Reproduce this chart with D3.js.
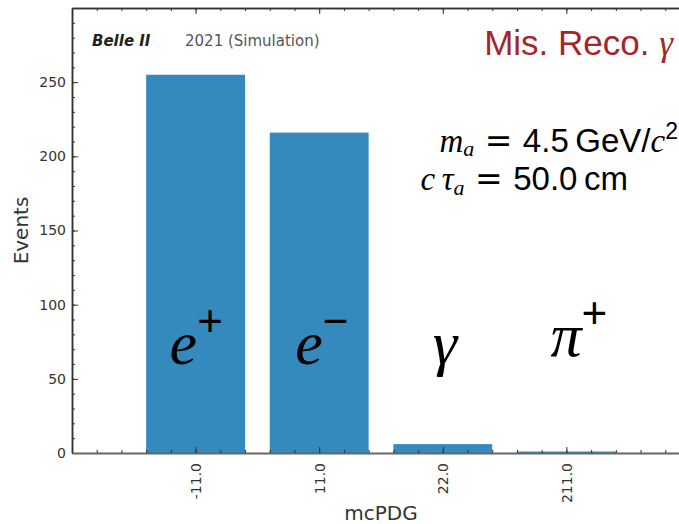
<!DOCTYPE html>
<html>
<head>
<meta charset="utf-8">
<script src="https://cdn.jsdelivr.net/npm/d3@7"></script>
<style>
body { margin: 0; background: #fff; }
svg { display: block; }
.mi { font-family: 'Liberation Serif', 'Times New Roman', serif; font-style: italic; }
.rm { font-family: 'Liberation Sans', Arial, sans-serif; }
.eq { font-family: 'DejaVu Sans', sans-serif; }
</style>
</head>
<body>
<svg id="chart" width="679" height="524"></svg>
<script>
// mcPDG categories and event counts
let categories = ["-11.0", "11.0", "22.0", "211.0"];
let events = [255, 216, 6, 1];
let particles = [
  {base: "e", sup: "+"},
  {base: "e", sup: "\u2212"},
  {base: "\u03b3", sup: ""},
  {base: "\u03c0", sup: "+"}
];
let yTicks = [0, 50, 100, 150, 200, 250];

let svg = d3.select("#chart");
let padL = 72, padT = 8, padB = 453, padR = 690;

let x = d3.scaleLinear().domain([-1, 4]).range([padL, padR]);
let y = d3.scaleLinear().domain([0, 300]).range([padB, padT]);
let barW = x(0.8) - x(0);

// bars
svg.selectAll("rect.bar")
  .data(events)
  .enter()
  .append("rect")
  .attr("class", "bar")
  .attr("x", (d, i) => x(i) - barW / 2)
  .attr("y", d => y(d))
  .attr("width", barW)
  .attr("height", d => y(0) - y(d))
  .style("fill", "#348ABD");

let minorX = d3.range(-1, 4.01, 0.2).map(v => +v.toFixed(2));
let minorY = d3.range(0, 301, 10);

function styleAxis(g) {
  g.selectAll(".tick line").attr("stroke", "#333");
  g.select(".domain").attr("stroke", "#333").attr("stroke-width", 1.5);
  g.selectAll("text").style("font", "14px 'DejaVu Sans'").style("fill", "#333");
}

// y axis
svg.append("g").attr("transform", `translate(${padL},0)`)
  .call(d3.axisLeft(y).tickValues(minorY).tickSize(-3).tickFormat("").tickSizeOuter(0))
  .call(styleAxis);
svg.append("g").attr("transform", `translate(${padL},0)`)
  .call(d3.axisLeft(y).tickValues(yTicks).tickSize(-6).tickSizeOuter(0))
  .call(styleAxis)
  .call(g => g.selectAll("text").attr("x", -6));

// top axis
svg.append("g").attr("transform", `translate(0,${padT})`)
  .call(d3.axisTop(x).tickValues(minorX).tickSize(-3).tickFormat("").tickSizeOuter(0))
  .call(styleAxis);
svg.append("g").attr("transform", `translate(0,${padT})`)
  .call(d3.axisTop(x).tickValues([0, 1, 2, 3]).tickSize(-6).tickFormat("").tickSizeOuter(0))
  .call(styleAxis);

// bottom axis
svg.append("g").attr("transform", `translate(0,${padB})`)
  .call(d3.axisBottom(x).tickValues(minorX).tickSize(-3).tickFormat("").tickSizeOuter(0))
  .call(styleAxis)
  .call(g => g.select(".domain").attr("stroke", "#666").attr("stroke-width", 2));
let xAx = svg.append("g").attr("transform", `translate(0,${padB})`)
  .call(d3.axisBottom(x).tickValues([0, 1, 2, 3]).tickSize(-6)
    .tickFormat((d, i) => categories[i]).tickSizeOuter(0))
  .call(styleAxis)
  .call(g => g.select(".domain").remove());
xAx.selectAll("text")
  .attr("transform", "rotate(-90)")
  .attr("x", -10)
  .attr("y", 0)
  .attr("dy", "0.35em")
  .style("text-anchor", "end");

// axis titles
svg.append("text")
  .attr("transform", `translate(28,${(padT + padB) / 2}) rotate(-90)`)
  .attr("text-anchor", "middle")
  .style("font", "20px 'DejaVu Sans'").style("fill", "#333")
  .text("Events");
svg.append("text")
  .attr("x", x(1.5)).attr("y", 520)
  .attr("text-anchor", "middle")
  .style("font", "20px 'DejaVu Sans'").style("fill", "#333")
  .text("mcPDG");

// header
svg.append("text").attr("x", 92).attr("y", 46)
  .style("font", "italic bold 15px 'DejaVu Sans'").style("fill", "#222")
  .text("Belle II");
svg.append("text").attr("x", 185).attr("y", 46)
  .style("font", "15px 'DejaVu Sans'").style("fill", "#555")
  .text("2021 (Simulation)");
let mis = svg.append("text").attr("x", 673).attr("y", 55)
  .attr("text-anchor", "end")
  .attr("class", "rm")
  .style("font-size", "35px").style("fill", "#a3262a");
mis.append("tspan").text("Mis. Reco. ");
mis.append("tspan").attr("class", "mi").text("\u03b3");

// parameter box
let l1 = svg.append("text").attr("x", 678).attr("y", 152).attr("text-anchor", "end")
  .style("font-size", "33px").style("fill", "#000");
l1.append("tspan").attr("class", "mi").text("m");
l1.append("tspan").attr("class", "mi").style("font-size", "22px").attr("dy", 4).text("a");
l1.append("tspan").attr("class", "eq").attr("dy", -4).text(" = ");
l1.append("tspan").attr("class", "rm").text("4.5\u2009GeV/");
l1.append("tspan").attr("class", "mi").text("c");
l1.append("tspan").attr("class", "rm").style("font-size", "23px").attr("dy", -13).text("2");

let l2 = svg.append("text").attr("x", 628).attr("y", 190).attr("text-anchor", "end")
  .style("font-size", "33px").style("fill", "#000");
l2.append("tspan").attr("class", "mi").text("c\u2009\u03c4");
l2.append("tspan").attr("class", "mi").style("font-size", "22px").attr("dy", 5).text("a");
l2.append("tspan").attr("class", "eq").attr("dy", -5).text(" = ");
l2.append("tspan").attr("class", "rm").text("50.0\u2009cm");

// particle labels
let labX = [-26, -24, -10, -16];
let lab = svg.selectAll("text.part")
  .data(particles)
  .enter()
  .append("text")
  .attr("class", "part")
  .attr("x", (d, i) => x(i) + labX[i])
  .attr("y", (d, i) => i === 3 ? 356 : 364)
  .style("fill", "#000");
lab.append("tspan").attr("class", "mi").style("font-size", "62px").text(d => d.base);
lab.append("tspan").attr("class", "rm").style("font-size", "44px").attr("dy", -28).text(d => d.sup);
</script>
</body>
</html>
